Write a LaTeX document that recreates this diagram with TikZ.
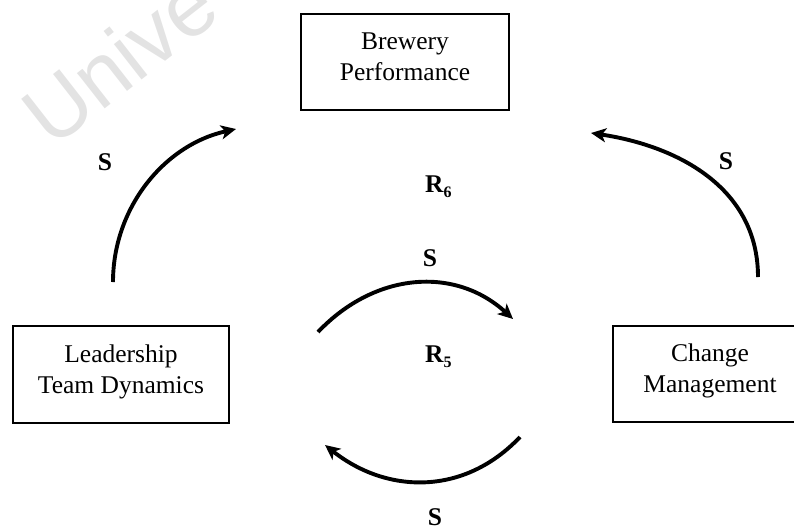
\documentclass[tikz,border=0pt]{standalone}
\usepackage{fontspec}
\setmainfont{Liberation Serif}
\newfontfamily\wmfont{Liberation Sans}
\usetikzlibrary{arrows.meta}

\begin{document}
\begin{tikzpicture}[x=1pt,y=-1pt,
  box/.style={draw, line width=1.6pt, inner sep=0pt, align=center,
    font=\fontsize{25.5}{31}\selectfont},
  link/.style={line width=3.9pt, -{Stealth[length=15pt,width=14pt,inset=4pt]}},
  sign/.style={font=\fontsize{25.5}{31}\selectfont\bfseries, inner sep=0pt, anchor=base},
  mark5/.style={font=\fontsize{25.5}{31}\selectfont\bfseries, inner sep=0pt, anchor=base west}]
\useasboundingbox (0,0) rectangle (794,528);
\begin{scope}
\clip (0,0) rectangle (794,528);

% faint watermark
\node[rotate=38, anchor=base west, inner sep=0pt, text=black!11,
  font=\wmfont\fontsize{85}{85}\selectfont] (wm) at (52,150) {Unive};

% variables
\node[box, minimum width=208pt, minimum height=96pt, text depth=10.8pt] (bp) at (405,62) {Brewery\\Performance};
\node[box, minimum width=216pt, minimum height=97pt, text depth=11.6pt] (ltd) at (121,374.5) {Leadership\\Team Dynamics};
\node[box, minimum width=194pt, minimum height=96pt, text depth=11.6pt] (cm) at (710,374) {Change\\Management};

% loop arrows
\coordinate (l1) at (113,282); \coordinate (l2) at (236,129);
\coordinate (r1) at (758,277); \coordinate (r2) at (591,133);
\coordinate (m1) at (318,332); \coordinate (m2) at (513,319);
\coordinate (b1) at (520,437); \coordinate (b2) at (325,445);
\draw[link] (l1) .. controls +(0,-74) and +(-72,16) .. (l2);
\draw[link] (r1) .. controls +(0,-89) and +(87,13) .. (r2);
\draw[link] (m1) .. controls +(57,-60) and +(-58,-53) .. (m2);
\draw[link] (b1) .. controls +(-56,59) and +(62,49) .. (b2);

% polarities and loop names
\node[sign] (sl) at (105,170) {S};
\node[sign] (sr) at (726,169) {S};
\node[sign] (sm) at (430,266) {S};
\node[sign] (sb) at (435,525) {S};
\node[mark5] (r6) at (425,192) {R\raisebox{-5pt}{\fontsize{16}{16}\selectfont 6}};
\node[mark5] (r5) at (425,362) {R\raisebox{-5pt}{\fontsize{16}{16}\selectfont 5}};
\end{scope}
\end{tikzpicture}
\end{document}
